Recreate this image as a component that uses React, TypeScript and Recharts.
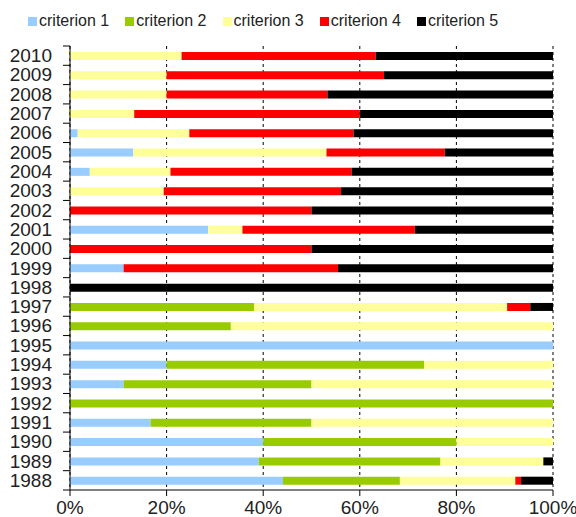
import React from "react";
import {
  BarChart,
  Bar,
  XAxis,
  YAxis,
  CartesianGrid,
  Legend,
} from "recharts";

// years, top of the chart first
const years = [
  "2010", "2009", "2008", "2007", "2006", "2005", "2004", "2003", "2002", "2001", "2000", "1999",
  "1998", "1997", "1996", "1995", "1994", "1993", "1992", "1991", "1990", "1989", "1988",
];

// share of each criterion per year (%)
const criterion1 = [0, 0, 0, 0, 1.6, 13.1, 4.1, 0, 0, 28.6, 0, 11.1, 0, 0, 0, 100, 20, 11.1, 0, 16.7, 40, 39.1, 44.1];
const criterion2 = [0, 0, 0, 0, 0, 0, 0, 0, 0, 0, 0, 0, 0, 38.1, 33.3, 0, 53.3, 38.9, 100, 33.3, 40, 37.6, 24.2];
const criterion3 = [23.1, 20, 20, 13.3, 23.1, 40, 16.7, 19.4, 0, 7.1, 0, 0, 0, 52.4, 66.7, 0, 26.7, 50, 0, 50, 20, 21.3, 23.9];
const criterion4 = [40.2, 45, 33.3, 46.7, 34, 24.5, 37.5, 36.7, 50, 35.7, 50, 44.4, 0, 4.8, 0, 0, 0, 0, 0, 0, 0, 0, 1.2];
const criterion5 = [36.7, 35, 46.7, 40, 41.3, 22.4, 41.7, 43.9, 50, 28.6, 50, 44.5, 100, 4.7, 0, 0, 0, 0, 0, 0, 0, 2, 6.6];

const xTicks = [0, 20, 40, 60, 80, 100];

const series = [
  { key: "c1", name: "criterion 1", color: "#99CCFF", values: criterion1 },
  { key: "c2", name: "criterion 2", color: "#99CC00", values: criterion2 },
  { key: "c3", name: "criterion 3", color: "#FFFF99", values: criterion3 },
  { key: "c4", name: "criterion 4", color: "#FF0000", values: criterion4 },
  { key: "c5", name: "criterion 5", color: "#000000", values: criterion5 },
];

const data = years.map((year, i) => {
  const row: Record<string, string | number> = { year };
  series.forEach((s) => {
    row[s.key] = s.values[i];
  });
  return row;
});

const FONT = "'Liberation Sans', Arial, sans-serif";
const TEXT = "#222";

function LegendBox() {
  return (
    <div
      style={{
        display: "flex",
        alignItems: "center",
        height: 46,
        paddingLeft: 28,
        paddingBottom: 4,
        boxSizing: "border-box",
        fontFamily: FONT,
        fontSize: 16,
        color: TEXT,
      }}
    >
      {series.map((s) => (
        <div key={s.key} style={{ display: "flex", alignItems: "center", marginRight: 16 }}>
          <span style={{ width: 9, height: 9, background: s.color, marginRight: 2, display: "inline-block" }} />
          <span>{s.name}</span>
        </div>
      ))}
    </div>
  );
}

// year label plus tick marks between the bands
function YearTick(props: any) {
  const { x, y, payload, index, visibleTicksCount } = props;
  const off = payload.offset || 0;
  return (
    <g>
      <text
        x={x}
        y={y}
        textAnchor="end"
        dominantBaseline="central"
        fontFamily={FONT}
        fontSize={19}
        fill={TEXT}
      >
        {payload.value}
      </text>
      <line x1={x + 11} x2={x + 18} y1={y - off} y2={y - off} stroke="#000" />
      {index === visibleTicksCount - 1 && (
        <line x1={x + 11} x2={x + 18} y1={y + off} y2={y + off} stroke="#000" />
      )}
    </g>
  );
}

export default function App() {
  return (
    <div style={{ position: "absolute", left: 0, top: 0 }}>
      <BarChart
        width={576}
        height={517}
        data={data}
        layout="vertical"
        margin={{ top: 0, right: 23, bottom: 0, left: 0 }}
        barCategoryGap={0}
      >
        <Legend
          verticalAlign="top"
          content={() => <LegendBox />}
          wrapperStyle={{ top: 0, left: 0, width: 576, height: 46 }}
        />
        <CartesianGrid horizontal={false} vertical stroke="#000" strokeDasharray="3 3" />
        <XAxis
          type="number"
          domain={[0, 100]}
          ticks={xTicks}
          tickFormatter={(v) => `${v}%`}
          height={27}
          tickSize={6}
          tickMargin={5}
          stroke="#000"
          tick={{ fontFamily: FONT, fontSize: 19, fill: TEXT }}
          interval={0}
        />
        <XAxis
          xAxisId="top"
          orientation="top"
          type="number"
          domain={[0, 100]}
          height={0}
          tick={false}
          tickLine={false}
          stroke="#000"
        />
        <YAxis
          type="category"
          dataKey="year"
          width={70}
          tickLine={false}
          tickSize={0}
          tickMargin={18}
          stroke="#000"
          interval={0}
          tick={<YearTick />}
        />
        {series.map((s) => (
          <Bar
            key={s.key}
            dataKey={s.key}
            name={s.name}
            stackId="a"
            fill={s.color}
            barSize={8}
            isAnimationActive={false}
          />
        ))}
      </BarChart>
    </div>
  );
}
